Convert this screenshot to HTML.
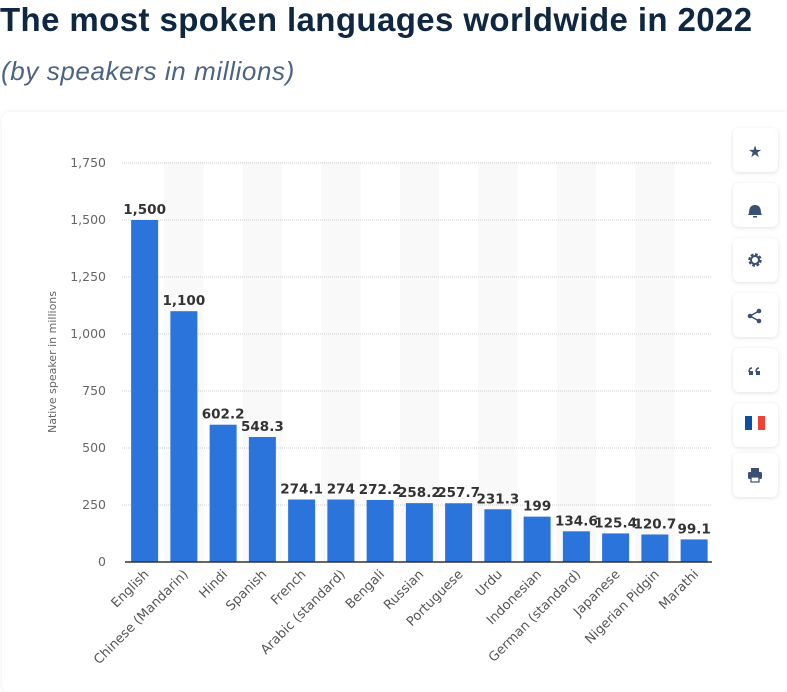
<!DOCTYPE html>
<html><head><meta charset="utf-8"><style>
body{margin:0;width:787px;height:683px;background:#fff;font-family:"Liberation Sans",sans-serif;overflow:hidden;position:relative}
.t{position:absolute;left:0;top:1px;font-size:33px;font-weight:bold;color:#0f2741;letter-spacing:0.4px;white-space:nowrap}
.s{position:absolute;left:1px;top:56px;font-size:26px;font-style:italic;color:#4c6382;letter-spacing:0.6px;white-space:nowrap}
.card{position:absolute;left:2px;top:112px;width:790px;height:580px;background:#fff;border-radius:8px;box-shadow:0 0 6px rgba(0,0,0,0.08)}
.btn{position:absolute;left:733px;width:45px;height:44px;background:#fff;border-radius:6px;box-shadow:0 1px 4px rgba(0,0,0,0.12)}
svg{position:absolute;left:0;top:0}
</style></head><body>
<div class="t">The most spoken languages worldwide in 2022</div>
<div class="s">(by speakers in millions)</div>
<div class="card"></div>
<div class="btn" style="top:128px"></div>
<div class="btn" style="top:183px"></div>
<div class="btn" style="top:238px"></div>
<div class="btn" style="top:293px"></div>
<div class="btn" style="top:348px"></div>
<div class="btn" style="top:403px"></div>
<div class="btn" style="top:453px"></div>
<svg width="787" height="683" id="c" font-family="DejaVu Sans, Liberation Sans, sans-serif"></svg>
<script>
var d=[["English",1500,"1,500"],["Chinese (Mandarin)",1100,"1,100"],["Hindi",602.2,"602.2"],["Spanish",548.3,"548.3"],["French",274.1,"274.1"],["Arabic (standard)",274,"274"],["Bengali",272.2,"272.2"],["Russian",258.2,"258.2"],["Portuguese",257.7,"257.7"],["Urdu",231.3,"231.3"],["Indonesian",199,"199"],["German (standard)",134.6,"134.6"],["Japanese",125.4,"125.4"],["Nigerian Pidgin",120.7,"120.7"],["Marathi",99.1,"99.1"]];
var s="",y0=562,k=57/250,st=39.25,x0=125;
for(var i=0;i<15;i++){if(i%2)s+='<rect x="'+(x0+i*st)+'" y="162" width="'+st+'" height="400" fill="#f9f9fa"/>';}
for(var j=0;j<=7;j++){var y=y0-j*57;if(j>0)s+='<line x1="122" x2="712" y1="'+y+'" y2="'+y+'" stroke="#ccc" stroke-dasharray="1,1"/>';
s+='<text x="106" y="'+(y+4)+'" font-size="12.5" fill="#666" text-anchor="end">'+(j*250).toLocaleString("en-US")+'</text>';}
for(var i=0;i<15;i++){var cx=x0+i*st+st/2,h=d[i][1]*k;
s+='<rect x="'+(cx-13.5)+'" y="'+(y0-h)+'" width="27" height="'+h+'" fill="#2a74db"/>';
s+='<text x="'+cx+'" y="'+(y0-h-6)+'" font-size="13.5" font-weight="bold" fill="#333" text-anchor="middle">'+d[i][2]+'</text>';
s+='<text transform="translate('+(cx+5)+',575) rotate(-45)" font-size="13" fill="#555" text-anchor="end">'+d[i][0]+'</text>';}
s+='<line x1="125" x2="712" y1="562" y2="562" stroke="#333" stroke-width="1.5"/>';
s+='<text transform="translate(56,362) rotate(-90)" font-size="11" fill="#666" text-anchor="middle">Native speaker in millions</text>';
var ic="#3a5174";
s+='<text x="755" y="157" font-size="16" fill="'+ic+'" text-anchor="middle">★</text>';
s+='<path d="M749,213 q0,-8 6,-8 q6,0 6,8 l1,2 h-14 z" fill="'+ic+'"/><rect x="753" y="216" width="4" height="1.5" fill="'+ic+'"/>';
s+='<circle cx="755" cy="260" r="5" fill="none" stroke="'+ic+'" stroke-width="3.5" stroke-dasharray="2.5,1.4"/><circle cx="755" cy="260" r="4" fill="none" stroke="'+ic+'" stroke-width="2"/>';
s+='<circle cx="759" cy="311" r="2.3" fill="'+ic+'"/><circle cx="750" cy="316" r="2.3" fill="'+ic+'"/><circle cx="759" cy="321" r="2.3" fill="'+ic+'"/><path d="M759,311 L750,316 L759,321" stroke="'+ic+'" stroke-width="1.5" fill="none"/>';
s+='<rect x="749" y="371" width="4" height="4" fill="'+ic+'"/><rect x="756" y="371" width="4" height="4" fill="'+ic+'"/><path d="M749,372 q0,-4 3,-4 M756,372 q0,-4 3,-4" stroke="'+ic+'" stroke-width="1.5" fill="none"/>';
s+='<rect x="745" y="416" width="7" height="14" fill="#0b4ea2"/><rect x="752" y="416" width="6" height="14" fill="#fff"/><rect x="758" y="416" width="7" height="14" fill="#ef4135"/>';
s+='<rect x="751" y="468" width="8" height="4" fill="'+ic+'"/><rect x="748" y="472" width="14" height="7" rx="1.5" fill="'+ic+'"/><rect x="751" y="477" width="8" height="5" fill="#fff" stroke="'+ic+'" stroke-width="1.2"/>';
document.getElementById("c").innerHTML=s;
</script>
</body></html>
